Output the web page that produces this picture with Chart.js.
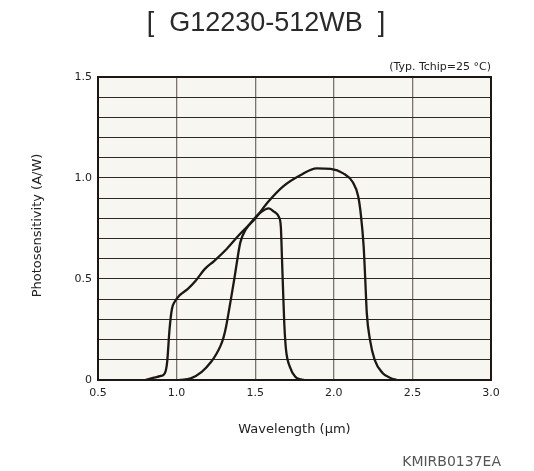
<!DOCTYPE html>
<html>
<head>
<meta charset="utf-8">
<script src="https://cdn.jsdelivr.net/npm/chart.js@4/dist/chart.umd.min.js"></script>
<style>
  html, body { margin: 0; padding: 0; background: #ffffff; }
  #wrap { width: 534px; height: 471px; }
</style>
</head>
<body>
<div id="wrap"><canvas id="c" width="534" height="471"></canvas></div>
<script>
// Spectral response, G12230-512WB (typ. Tchip = 25 °C)
const wavelengthWide = [0.80, 0.85, 0.90, 0.925, 0.94, 0.955, 0.97, 0.99, 1.02, 1.07, 1.12, 1.18, 1.24, 1.32, 1.40, 1.50, 1.58, 1.68, 1.79, 1.89, 1.98, 2.06, 2.12, 2.155, 2.172, 2.19, 2.20, 2.21, 2.23, 2.26, 2.31, 2.36, 2.40];
const sensitivityWide = [0.0, 0.01, 0.02, 0.033, 0.09, 0.25, 0.35, 0.39, 0.42, 0.45, 0.49, 0.55, 0.59, 0.65, 0.72, 0.80, 0.88, 0.96, 1.015, 1.048, 1.045, 1.023, 0.98, 0.91, 0.82, 0.66, 0.50, 0.33, 0.20, 0.10, 0.035, 0.01, 0.0];

const wavelengthNarrow = [1.02, 1.09, 1.16, 1.22, 1.25, 1.28, 1.30, 1.315, 1.33, 1.352, 1.367, 1.385, 1.405, 1.44, 1.49, 1.54, 1.585, 1.62, 1.65, 1.663, 1.67, 1.677, 1.685, 1.696, 1.72, 1.755, 1.79, 1.81];
const sensitivityNarrow = [0.0, 0.008, 0.04, 0.09, 0.125, 0.17, 0.215, 0.265, 0.33, 0.43, 0.50, 0.59, 0.68, 0.745, 0.795, 0.833, 0.85, 0.833, 0.808, 0.76, 0.61, 0.45, 0.28, 0.15, 0.066, 0.016, 0.003, 0.0];

const xTickValues = [0.5, 1.0, 1.5, 2.0, 2.5, 3.0];
const yTickLabels = ['0', '0.5', '1.0', '1.5'];

const toPoints = (xs, ys) => xs.map((x, i) => ({ x: x, y: ys[i] }));

const FONT = '"DejaVu Sans", Verdana, sans-serif';
const INK = '#1e1815';

// cream plot background plus the heavy outer frame
const plotFrame = {
  id: 'plotFrame',
  beforeDraw(chart) {
    const { ctx, chartArea: a } = chart;
    ctx.save();
    ctx.fillStyle = '#f7f6f0';
    ctx.fillRect(a.left, a.top, a.right - a.left, a.bottom - a.top);
    ctx.restore();
  },
  afterDatasetsDraw(chart) {
    const { ctx, chartArea: a } = chart;
    ctx.save();
    ctx.strokeStyle = INK;
    ctx.lineWidth = 2;
    ctx.strokeRect(a.left, a.top, a.right - a.left, a.bottom - a.top);
    ctx.restore();
  }
};

// headings, axis titles and drawing code
const captions = {
  id: 'captions',
  afterDraw(chart) {
    const { ctx, chartArea: a } = chart;
    const cx = (a.left + a.right) / 2;
    ctx.save();
    ctx.textBaseline = 'middle';

    ctx.fillStyle = '#2a2a2a';
    ctx.textAlign = 'center';
    ctx.font = '27px "Liberation Sans", Arial, sans-serif';
    ctx.fillText('[  G12230-512WB  ]', 266, 24);

    ctx.fillStyle = '#222';
    ctx.font = '11px ' + FONT;
    ctx.textAlign = 'right';
    ctx.fillText('(Typ. Tchip=25 °C)', a.right, 67);

    ctx.font = '13px ' + FONT;
    ctx.textAlign = 'center';
    ctx.fillText('Wavelength (μm)', cx, 430);

    ctx.save();
    ctx.translate(38, (a.top + a.bottom) / 2 - 3);
    ctx.rotate(-Math.PI / 2);
    ctx.fillText('Photosensitivity (A/W)', 0, 0);
    ctx.restore();

    ctx.fillStyle = '#555';
    ctx.font = '14px ' + FONT;
    ctx.textAlign = 'right';
    ctx.fillText('KMIRB0137EA', 501, 462);
    ctx.restore();
  }
};

const curve = (xs, ys) => ({
  data: toPoints(xs, ys),
  borderColor: INK,
  borderWidth: 2.3,
  pointRadius: 0,
  showLine: true,
  fill: false,
  cubicInterpolationMode: 'monotone'
});

new Chart(document.getElementById('c'), {
  type: 'scatter',
  data: {
    datasets: [
      curve(wavelengthWide, sensitivityWide),
      curve(wavelengthNarrow, sensitivityNarrow)
    ]
  },
  options: {
    responsive: false,
    animation: false,
    layout: { padding: { left: 0, top: 77, right: 43, bottom: 61 } },
    plugins: { legend: { display: false }, tooltip: { enabled: false }, title: { display: false } },
    scales: {
      x: {
        type: 'linear',
        min: 0.5,
        max: 3.0,
        afterFit(scale) { scale.height = 30; },
        afterBuildTicks(scale) { scale.ticks = xTickValues.map(v => ({ value: v })); },
        grid: { color: '#7b7570', lineWidth: 1.3, drawTicks: false },
        border: { display: false },
        ticks: {
          padding: 7,
          color: '#222',
          font: { family: FONT, size: 11 },
          maxRotation: 0,
          callback: v => v.toFixed(1)
        }
      },
      y: {
        type: 'linear',
        min: 0,
        max: 1.5,
        afterFit(scale) { scale.width = 98; },
        grid: { color: '#2e2824', lineWidth: 1.1, drawTicks: false },
        border: { display: false },
        ticks: {
          stepSize: 0.1,
          padding: 6,
          color: '#222',
          font: { family: FONT, size: 11 },
          autoSkip: false,
          callback: v => {
            const k = Math.round(v * 10);
            return k % 5 === 0 ? yTickLabels[k / 5] : '';
          }
        }
      }
    }
  },
  plugins: [plotFrame, captions]
});
</script>
</body>
</html>
